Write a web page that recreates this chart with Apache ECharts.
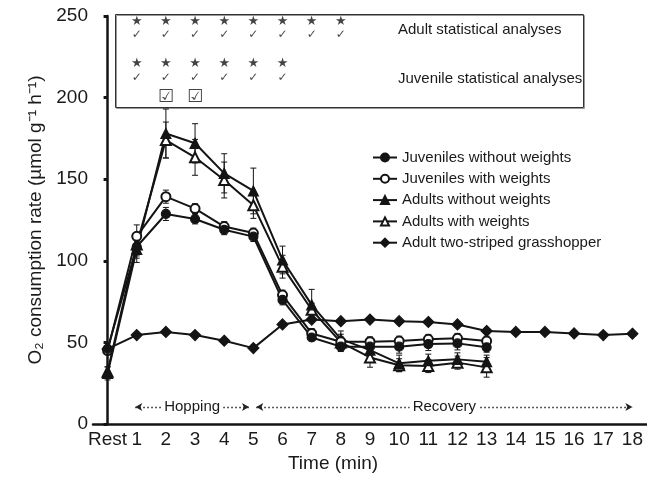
<!DOCTYPE html>
<html>
<head>
<meta charset="utf-8">
<script src="https://cdn.jsdelivr.net/npm/echarts@6/dist/echarts.min.js"></script>
<style>html,body{margin:0;padding:0;background:#fff;}#c{width:647px;height:482px;}</style>
</head>
<body>
<div id="c"></div>
<script>
const categories = ['Rest','1','2','3','4','5','6','7','8','9','10','11','12','13','14','15','16','17','18'];
const yTicks = [0, 50, 100, 150, 200, 250];

const juvWithout    = [46, 108.6, 128.7, 125.6, 119, 114.8, 76, 53, 47.4, 47.4, 47.4, 49, 49.4, 47];
const juvWithoutErr = [2, 7, 4, 3, 3, 3, 3, 2, 3, 4, 4, 4, 4, 3];
const juvWith       = [45, 115, 139.3, 132, 121, 117, 79, 55.5, 50.4, 50.4, 50.8, 51.9, 52.5, 50.8];
const juvWithErr    = [2, 7, 4, 3, 3, 3, 3, 3, 3, 3, 3, 3, 3, 3];
const adultWithout    = [31, 107, 178, 172, 153.6, 142.8, 100.5, 73, 52, 45.3, 37.2, 38.8, 39.6, 38.2];
const adultWithoutErr = [4, 8, 15, 12, 12, 14, 8.5, 9.5, 5, 5, 5, 4, 4, 4];
const adultWith       = [32, 110, 174, 163.4, 149.5, 134, 96.4, 70, 50, 40.8, 36, 35.5, 37.6, 34.7];
const adultWithErr    = [3, 7, 11, 11, 11, 8, 7, 4, 5, 6, 4, 4, 4, 6];
const grasshopper = [46, 54.5, 56.4, 54.5, 51, 46.5, 61, 64, 63, 64, 63, 62.5, 61, 57, 56.4, 56.4, 55.5, 54.5, 55.3];

const adultSigCats = ['1','2','3','4','5','6','7','8'];
const juvSigCats = ['1','2','3','4','5','6'];
const juvBoxCats = ['2','3'];

const phases = [
  {name: 'Hopping', from: 0.95, to: 4.85},
  {name: 'Recovery', from: 5.1, to: 18}
];

const INK = '#141414';
const FONT = '"Liberation Sans", Arial, Helvetica, sans-serif';

function errData(vals, errs) { return vals.map((v, i) => [i, v, errs[i]]); }

function errSeries(vals, errs) {
  return {
    type: 'custom',
    silent: true,
    z: 1,
    data: errData(vals, errs),
    renderItem: function (params, api) {
      const x = api.value(0), m = api.value(1), e = api.value(2);
      const t = api.coord([x, m + e]);
      const b = api.coord([x, m - e]);
      const w = 3;
      const st = {stroke: INK, lineWidth: 1};
      return {type: 'group', children: [
        {type: 'line', shape: {x1: t[0], y1: t[1], x2: b[0], y2: b[1]}, style: st},
        {type: 'line', shape: {x1: t[0]-w, y1: t[1], x2: t[0]+w, y2: t[1]}, style: st},
        {type: 'line', shape: {x1: b[0]-w, y1: b[1], x2: b[0]+w, y2: b[1]}, style: st}
      ]};
    }
  };
}

function lineSeries(name, vals, symbol, size) {
  return {
    name: name, type: 'line', data: vals, symbol: symbol, symbolSize: size,
    z: 3,
    lineStyle: {color: INK, width: 2},
    itemStyle: {color: INK, borderColor: INK, borderWidth: 1.2},
    emphasis: {disabled: true}
  };
}

function glyphSeries(cats, yv, glyph, size) {
  return {
    type: 'scatter', silent: true, z: 5,
    data: cats.map(c => [c, yv]),
    symbol: 'circle', symbolSize: 1,
    itemStyle: {color: 'rgba(0,0,0,0)'},
    label: {show: true, position: 'inside', formatter: glyph, fontSize: size,
            color: INK, fontFamily: '"DejaVu Sans", sans-serif'}
  };
}

const chart = echarts.init(document.getElementById('c'), null, {renderer: 'canvas'});
chart.setOption({
  animation: false,
  backgroundColor: '#fff',
  textStyle: {fontFamily: FONT},
  grid: {left: 93, right: 0, top: 16, bottom: 58},
  legend: {
    data: ['Juveniles without weights', 'Juveniles with weights', 'Adults without weights',
           'Adults with weights', 'Adult two-striped grasshopper'],
    orient: 'vertical', left: 367, top: 145, itemWidth: 24, itemHeight: 10, itemGap: 6.3,
    selectedMode: false,
    textStyle: {fontSize: 15, color: '#1a1a1a', fontFamily: FONT}
  },
  xAxis: [{
    type: 'category', data: categories, boundaryGap: true,
    name: 'Time (min)', nameLocation: 'middle', nameGap: 30,
    nameTextStyle: {fontSize: 19, color: '#1a1a1a', padding: [0, 74, 0, 0]},
    axisLine: {lineStyle: {color: INK, width: 2.5}},
    axisTick: {alignWithLabel: true, interval: 0, length: 4, lineStyle: {color: INK, width: 3}},
    axisLabel: {interval: 0, fontSize: 19, color: '#1a1a1a', margin: 6},
    splitLine: {show: false}
  }, {
    type: 'value', min: -0.5, max: 18.5, show: false
  }],
  yAxis: {
    type: 'value', min: 0, max: 250, interval: 50,
    name: 'O\u2082 consumption rate (\u00b5mol g\u207b\u00b9 h\u207b\u00b9)',
    nameLocation: 'middle', nameGap: 44, nameRotate: 90,
    nameTextStyle: {fontSize: 19, color: '#1a1a1a'},
    axisLine: {show: true, lineStyle: {color: INK, width: 2.5}},
    axisTick: {show: true, length: 4, lineStyle: {color: INK, width: 3}},
    axisLabel: {fontSize: 19, color: '#1a1a1a', margin: 5,
                formatter: v => yTicks.indexOf(v) >= 0 ? String(v) : ''},
    splitLine: {show: false}
  },
  graphic: [
    {type: 'rect', left: 114, top: 13, shape: {width: 468, height: 93},
     style: {fill: 'none', stroke: '#999', lineWidth: 1}, z: 0},
    {type: 'rect', left: 113, top: 12, shape: {width: 468, height: 93},
     style: {fill: 'none', stroke: '#333', lineWidth: 1}, z: 0},
    {type: 'text', left: 398, top: 22, style: {text: 'Adult statistical analyses', fontSize: 15,
     fill: '#1a1a1a', fontFamily: FONT}},
    {type: 'text', left: 398, top: 71, style: {text: 'Juvenile statistical analyses', fontSize: 15,
     fill: '#1a1a1a', fontFamily: FONT}}
  ],
  series: [
    errSeries(juvWithout, juvWithoutErr),
    errSeries(juvWith, juvWithErr),
    errSeries(adultWithout, adultWithoutErr),
    errSeries(adultWith, adultWithErr),
    lineSeries('Adult two-striped grasshopper', grasshopper, 'diamond', 11),
    lineSeries('Adults with weights', adultWith, 'emptyTriangle', 10),
    lineSeries('Adults without weights', adultWithout, 'triangle', 10),
    lineSeries('Juveniles with weights', juvWith, 'emptyCircle', 9),
    lineSeries('Juveniles without weights', juvWithout, 'circle', 9),
    glyphSeries(adultSigCats, 246.5, '\u2605', 13),
    glyphSeries(adultSigCats, 238.4, '\u2713', 12),
    glyphSeries(juvSigCats, 220.6, '\u2605', 13),
    glyphSeries(juvSigCats, 211.8, '\u2713', 12),
    glyphSeries(juvBoxCats, 200.2, '\u2611', 18),
    {
      type: 'scatter', xAxisIndex: 1, yAxisIndex: 0, data: [], silent: true,
      markLine: {
        silent: true, animation: false,
        symbol: ['arrow', 'arrow'], symbolSize: [6, 7],
        lineStyle: {color: '#222', width: 1.3, type: [1.5, 2.5]},
        label: {show: true, position: 'middle', distance: 0, verticalAlign: 'middle', align: 'center',
                fontSize: 15, color: '#1a1a1a', fontFamily: FONT,
                backgroundColor: '#fff', padding: [0, 3], formatter: p => p.name},
        data: phases.map(p => [{name: p.name, coord: [p.from, 10.4]}, {coord: [p.to, 10.4]}])
      }
    }
  ]
});
</script>
</body>
</html>
